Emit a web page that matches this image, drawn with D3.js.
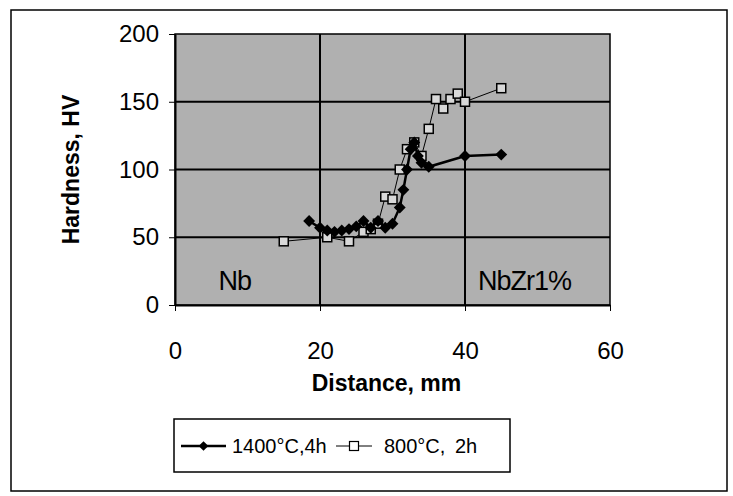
<!DOCTYPE html>
<html lang="en">
<head>
    <meta charset="UTF-8">
    <title>Hardness profile</title>
    <script src="https://d3js.org/d3.v7.min.js"></script>
    <style>
        body {
            margin: 0;
            background: #fff;
            font-family: "Liberation Sans", Arial, sans-serif;
        }
        .axis-title {
            font-size: 23px;
            font-weight: bold;
        }
        .zone-label {
            font-size: 27px;
            letter-spacing: -1px;
        }
        .legend text {
            font-size: 20px;
        }
    </style>
</head>
<body>
    <svg width="733" height="496"></svg>
    <script>
        // Data
        const distance1400 = [18.5, 20, 21, 22, 23, 24, 25, 26, 27, 28, 29, 30, 31, 31.5, 32, 32.5, 33, 33.5, 34, 35, 40, 45];
        const hardness1400 = [62, 57, 55, 54, 55, 56, 58, 62, 57, 62, 57, 60, 72, 85, 100, 115, 120, 110, 105, 102, 110, 111];
        const distance800 = [15, 21, 24, 26, 27, 28, 29, 30, 31, 32, 33, 34, 35, 36, 37, 38, 39, 40, 45];
        const hardness800 = [47, 50, 47, 54, 56, 60, 80, 78, 100, 115, 120, 110, 130, 152, 145, 152, 156, 150, 160];
        const xTicks = [0, 20, 40, 60];
        const yTicks = [0, 50, 100, 150, 200];
        const seriesNames = ["1400°C,4h", "800°C, 2h"];

        const svg = d3.select("svg");

        // Plot area (pixel box)
        const plot = {left: 175, right: 610, top: 34, bottom: 305};

        const x = d3.scaleLinear().domain([0, 60]).range([plot.left, plot.right]);
        const y = d3.scaleLinear().domain([0, 200]).range([plot.bottom, plot.top]);

        // Outer frame
        svg.append("rect")
           .attr("x", 11).attr("y", 10)
           .attr("width", 716).attr("height", 481)
           .attr("fill", "none")
           .attr("stroke", "#000")
           .attr("stroke-width", 1.5);

        // Gray plot background
        svg.append("rect")
           .attr("x", plot.left).attr("y", plot.top)
           .attr("width", plot.right - plot.left)
           .attr("height", plot.bottom - plot.top)
           .attr("fill", "#b0b0b0")
           .attr("stroke", "#000")
           .attr("stroke-width", 1.5);

        // Gridlines
        svg.append("g")
           .selectAll("line")
           .data(xTicks.slice(1, -1))
           .enter().append("line")
           .attr("x1", d => x(d)).attr("x2", d => x(d))
           .attr("y1", plot.top).attr("y2", plot.bottom)
           .attr("stroke", "#000").attr("stroke-width", 2);

        svg.append("g")
           .selectAll("line")
           .data(yTicks.slice(1, -1))
           .enter().append("line")
           .attr("x1", plot.left).attr("x2", plot.right)
           .attr("y1", d => y(d)).attr("y2", d => y(d))
           .attr("stroke", "#000").attr("stroke-width", 2);

        // Axes
        const xAxis = svg.append("g")
           .attr("transform", `translate(0,${plot.bottom})`)
           .call(d3.axisBottom(x).tickValues(xTicks).tickSize(6).tickPadding(31).tickSizeOuter(0));
        xAxis.select(".domain").attr("stroke-width", 2);
        xAxis.selectAll("text")
             .style("font-size", "24px")
             .style("font-family", "'Liberation Sans', Arial, sans-serif");

        const yAxis = svg.append("g")
           .attr("transform", `translate(${plot.left},0)`)
           .call(d3.axisLeft(y).tickValues(yTicks).tickSize(6).tickPadding(10).tickSizeOuter(0));
        yAxis.select(".domain").attr("stroke-width", 2);
        yAxis.selectAll("text")
             .style("font-size", "24px")
             .style("font-family", "'Liberation Sans', Arial, sans-serif");

        // Axis titles
        svg.append("text")
           .attr("class", "axis-title")
           .attr("x", (plot.left + plot.right) / 2 - 6)
           .attr("y", 391)
           .attr("text-anchor", "middle")
           .text("Distance, mm");

        svg.append("text")
           .attr("class", "axis-title")
           .attr("transform", `translate(79,${(plot.top + plot.bottom) / 2}) rotate(-90)`)
           .attr("text-anchor", "middle")
           .text("Hardness, HV");

        // Zone labels
        svg.append("text").attr("class", "zone-label")
           .attr("x", x(6)).attr("y", y(11))
           .text("Nb");
        svg.append("text").attr("class", "zone-label")
           .attr("x", x(41.8)).attr("y", y(11))
           .text("NbZr1%");

        const line = d3.line().x(d => x(d[0])).y(d => y(d[1]));
        const pts1400 = distance1400.map((d, i) => [d, hardness1400[i]]);
        const pts800 = distance800.map((d, i) => [d, hardness800[i]]);

        // 800°C series: thin line, open squares
        svg.append("path")
           .datum(pts800)
           .attr("d", line)
           .attr("fill", "none")
           .attr("stroke", "#000")
           .attr("stroke-width", 1);
        svg.selectAll(".sq")
           .data(pts800)
           .enter().append("rect")
           .attr("class", "sq")
           .attr("x", d => x(d[0]) - 4.5)
           .attr("y", d => y(d[1]) - 4.5)
           .attr("width", 9).attr("height", 9)
           .attr("fill", "#d8d8d8")
           .attr("stroke", "#000")
           .attr("stroke-width", 1.5);

        // 1400°C series: thick line, filled diamonds
        svg.append("path")
           .datum(pts1400)
           .attr("d", line)
           .attr("fill", "none")
           .attr("stroke", "#000")
           .attr("stroke-width", 2.5);
        const diamond = d3.symbol().type(d3.symbolDiamond2).size(90);
        svg.selectAll(".dm")
           .data(pts1400)
           .enter().append("path")
           .attr("class", "dm")
           .attr("d", diamond)
           .attr("transform", d => `translate(${x(d[0])},${y(d[1])})`)
           .attr("fill", "#000");

        // Legend
        const legend = svg.append("g").attr("class", "legend");
        legend.append("rect")
           .attr("x", 174).attr("y", 419)
           .attr("width", 336).attr("height", 53)
           .attr("fill", "#fff")
           .attr("stroke", "#000")
           .attr("stroke-width", 1.5);

        legend.append("line")
           .attr("x1", 181).attr("x2", 226).attr("y1", 446).attr("y2", 446)
           .attr("stroke", "#000").attr("stroke-width", 2.5);
        legend.append("path")
           .attr("d", d3.symbol().type(d3.symbolDiamond2).size(60))
           .attr("transform", "translate(203.5,446)")
           .attr("fill", "#000");
        legend.append("text")
           .attr("x", 232).attr("y", 453)
           .text(seriesNames[0]);

        legend.append("line")
           .attr("x1", 336).attr("x2", 372).attr("y1", 446).attr("y2", 446)
           .attr("stroke", "#000").attr("stroke-width", 1);
        legend.append("rect")
           .attr("x", 349.5).attr("y", 441.5)
           .attr("width", 9).attr("height", 9)
           .attr("fill", "#fff")
           .attr("stroke", "#000")
           .attr("stroke-width", 1.2);
        legend.append("text")
           .attr("x", 384).attr("y", 453)
           .style("word-spacing", "4px")
           .text(seriesNames[1]);
    </script>
</body>
</html>
